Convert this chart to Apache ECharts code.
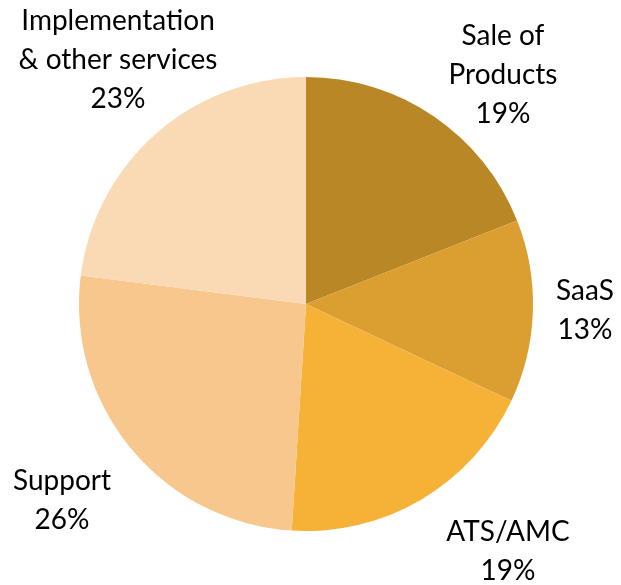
<!DOCTYPE html>
<html>
<head>
<meta charset="utf-8">
<script src="https://cdn.jsdelivr.net/npm/echarts@6/dist/echarts.min.js"></script>
<style>
  html, body { margin: 0; padding: 0; background: #fff; }
  #chart { width: 621px; height: 585px; }
</style>
</head>
<body>
<div id="chart"></div>
<script>
// data
const categories = ['Sale of\nProducts', 'SaaS', 'ATS/AMC', 'Support', 'Implementation\n& other services']
const shares = [19, 13, 19, 26, 23]
const colors = ['#BA8727', '#DB9E31', '#F6B236', '#F8C78D', '#FADAB5']

// label centres (layout only)
const labelPos = [[503, 75], [585, 310], [508, 551], [62, 500], [118, 60]]

const chart = echarts.init(document.getElementById('chart'))

const option = {
  animation: false,
  series: [
    {
      type: 'pie',
      center: [306, 304],
      radius: 227,
      startAngle: 90,
      clockwise: true,
      avoidLabelOverlap: false,
      data: categories.map((name, i) => ({
        name: name,
        value: shares[i],
        itemStyle: { color: colors[i] }
      })),
      itemStyle: { borderWidth: 0 },
      label: {
        show: true,
        position: 'outside',
        formatter: p => p.name + '\n' + p.value + '%',
        fontFamily: 'Lato',
        fontSize: 28,
        lineHeight: 39,
        color: '#000',
        align: 'center',
        overflow: 'none',
        width: 300
      },
      labelLine: { show: false },
      labelLayout: params => ({
        x: labelPos[params.dataIndex][0],
        y: labelPos[params.dataIndex][1],
        align: 'center',
        verticalAlign: 'middle'
      })
    }
  ]
}

chart.setOption(option)
</script>
</body>
</html>
